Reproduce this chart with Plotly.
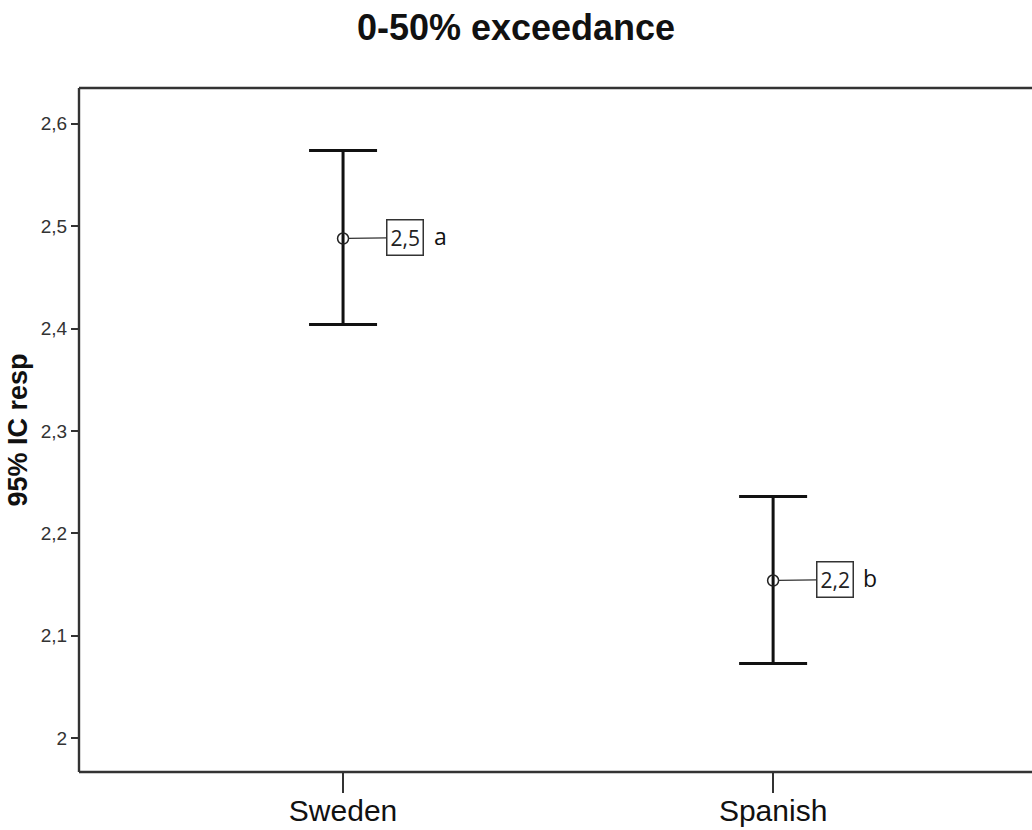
import plotly.graph_objects as go

categories = ["Sweden", "Spanish"]
means = [2.488, 2.154]
upper = [2.574, 2.236]
lower = [2.404, 2.073]
mean_labels = ["2,5", "2,2"]
group_letters = ["a", "b"]
y_ticks = [2.0, 2.1, 2.2, 2.3, 2.4, 2.5, 2.6]

err_plus = [u - m for u, m in zip(upper, means)]
err_minus = [m - l for m, l in zip(means, lower)]

fig = go.Figure()
fig.add_trace(go.Scatter(
    x=[0, 1], y=means, mode="markers",
    marker=dict(symbol="circle-open", size=11, color="#222", line=dict(width=1.5)),
    error_y=dict(type="data", symmetric=False, array=err_plus, arrayminus=err_minus,
                 color="#111", thickness=3, width=34),
    showlegend=False, hoverinfo="skip",
))

for i, (m, lab, let) in enumerate(zip(means, mean_labels, group_letters)):
    fig.add_annotation(x=i, y=m, text=lab, showarrow=True, arrowhead=0,
                       arrowwidth=1.3, arrowcolor="#333", ax=62, ay=-1, standoff=5,
                       bordercolor="#333", borderwidth=1.5, borderpad=3, bgcolor="white",
                       font=dict(family="Open Sans", size=21, color="#222"))
    fig.add_annotation(x=i, y=m, text=let, showarrow=False, xshift=97, yshift=3,
                       font=dict(family="Open Sans", size=23, color="#111"))

# frame (left, top, bottom) - right side runs off the page
for x0, y0, x1, y1 in [(0, 0, 1, 0), (0, 1, 1, 1), (0, 0, 0, 1)]:
    fig.add_shape(type="line", xref="paper", yref="paper", x0=x0, y0=y0, x1=x1, y1=y1,
                  line=dict(color="#333", width=2.4))

fig.update_layout(
    width=1032, height=830,
    margin=dict(l=79, r=0, t=88, b=58),
    paper_bgcolor="white", plot_bgcolor="white",
    separators=",.",
    title=dict(text="<b>0-50% exceedance</b>", x=0.5, xanchor="center", y=0.967, yanchor="middle",
               font=dict(family="Liberation Sans, Arial", size=36, color="#111")),
    xaxis=dict(range=[-0.614, 1.602], tickvals=[0, 1], ticktext=categories,
               showgrid=False, zeroline=False, showline=False, automargin=False,
               ticks="outside", ticklen=20, tickwidth=2, tickcolor="#333",
               ticklabelstandoff=-8,
               tickfont=dict(family="Liberation Sans, Arial", size=30, color="#111")),
    yaxis=dict(range=[1.967, 2.635], tickvals=y_ticks,
               showgrid=False, zeroline=False, showline=False, automargin=False,
               ticks="outside", ticklen=7, tickwidth=2, tickcolor="#333",
               tickfont=dict(family="Liberation Sans, Arial", size=19, color="#333"),
               title=dict(text="<b>95% IC resp</b>", standoff=5,
                          font=dict(family="Liberation Sans, Arial", size=27, color="#111"))),
)

fig.write_html("out.html")
